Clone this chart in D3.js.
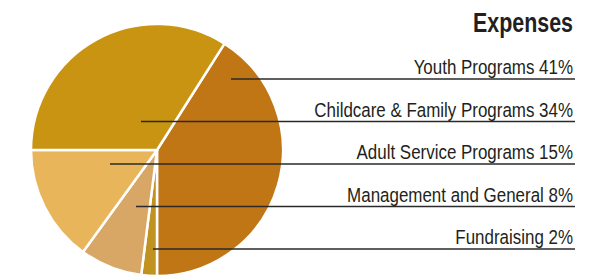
<!DOCTYPE html>
<html><head><meta charset="utf-8">
<script src="https://cdn.jsdelivr.net/npm/d3@7/dist/d3.min.js"></script>
<style>body{margin:0;background:#fff}svg{display:block}</style>
</head><body>
<svg id="c" width="605" height="275"></svg>
<script>
const title = "Expenses";
const categories = ["Youth Programs", "Childcare & Family Programs", "Adult Service Programs", "Management and General", "Fundraising"];
const values = [41, 34, 15, 8, 2];
const colors = ["#c17616", "#c89412", "#e9b55a", "#d8a766", "#c0921f"];

const cx = 157, cy = 150, R = 126;
const font = "'Liberation Sans', Arial, sans-serif";
const svg = d3.select("#c");

// clockwise order: Youth (ending straight down), Fundraising, Management, Adult, Childcare
const order = [0, 4, 3, 2, 1];
const youthStart = Math.PI - values[0] / 100 * 2 * Math.PI;
const arcs = d3.pie().sort(null).value(i => values[i])
  .startAngle(youthStart).endAngle(youthStart + 2 * Math.PI)(order);
const arc = d3.arc().innerRadius(0).outerRadius(R);

const g = svg.append("g").attr("transform", `translate(${cx},${cy})`);
g.selectAll("path").data(arcs).join("path")
  .attr("d", arc)
  .attr("fill", d => colors[d.data])
  .attr("stroke", "#fff").attr("stroke-width", 2.5).attr("stroke-linejoin", "round");

const y = d3.scalePoint().domain(categories).range([79, 249]);
const leaderStart = [231, 141, 110, 136, 153];
const lineEnd = 575, textEnd = 573;
svg.selectAll("line.leader").data(categories).join("line")
  .attr("class", "leader")
  .attr("x1", (d, i) => leaderStart[i]).attr("x2", lineEnd)
  .attr("y1", d => y(d)).attr("y2", d => y(d))
  .attr("stroke", "#2a2a2a").attr("stroke-width", 1.5);

const labels = svg.selectAll("text.lab").data(categories).join("text")
  .attr("class", "lab")
  .attr("text-anchor", "end")
  .attr("font-family", font).attr("font-size", 19.5).attr("fill", "#231f20")
  .text((d, i) => `${d} ${values[i]}%`);
// condensed look: compress horizontally so the longest label spans ~259px
const natural = labels.nodes()[1].getComputedTextLength();
const sx = 259 / natural;
labels.attr("transform", d => `translate(${textEnd},${y(d) - 5}) scale(${sx},1)`);

const t = svg.append("text")
  .attr("text-anchor", "end")
  .attr("font-family", font).attr("font-weight", "bold").attr("font-size", 28).attr("fill", "#231f20")
  .text(title);
const tsx = 100 / t.node().getComputedTextLength();
t.attr("transform", `translate(${textEnd},32) scale(${tsx},1)`);
</script>
</body></html>
